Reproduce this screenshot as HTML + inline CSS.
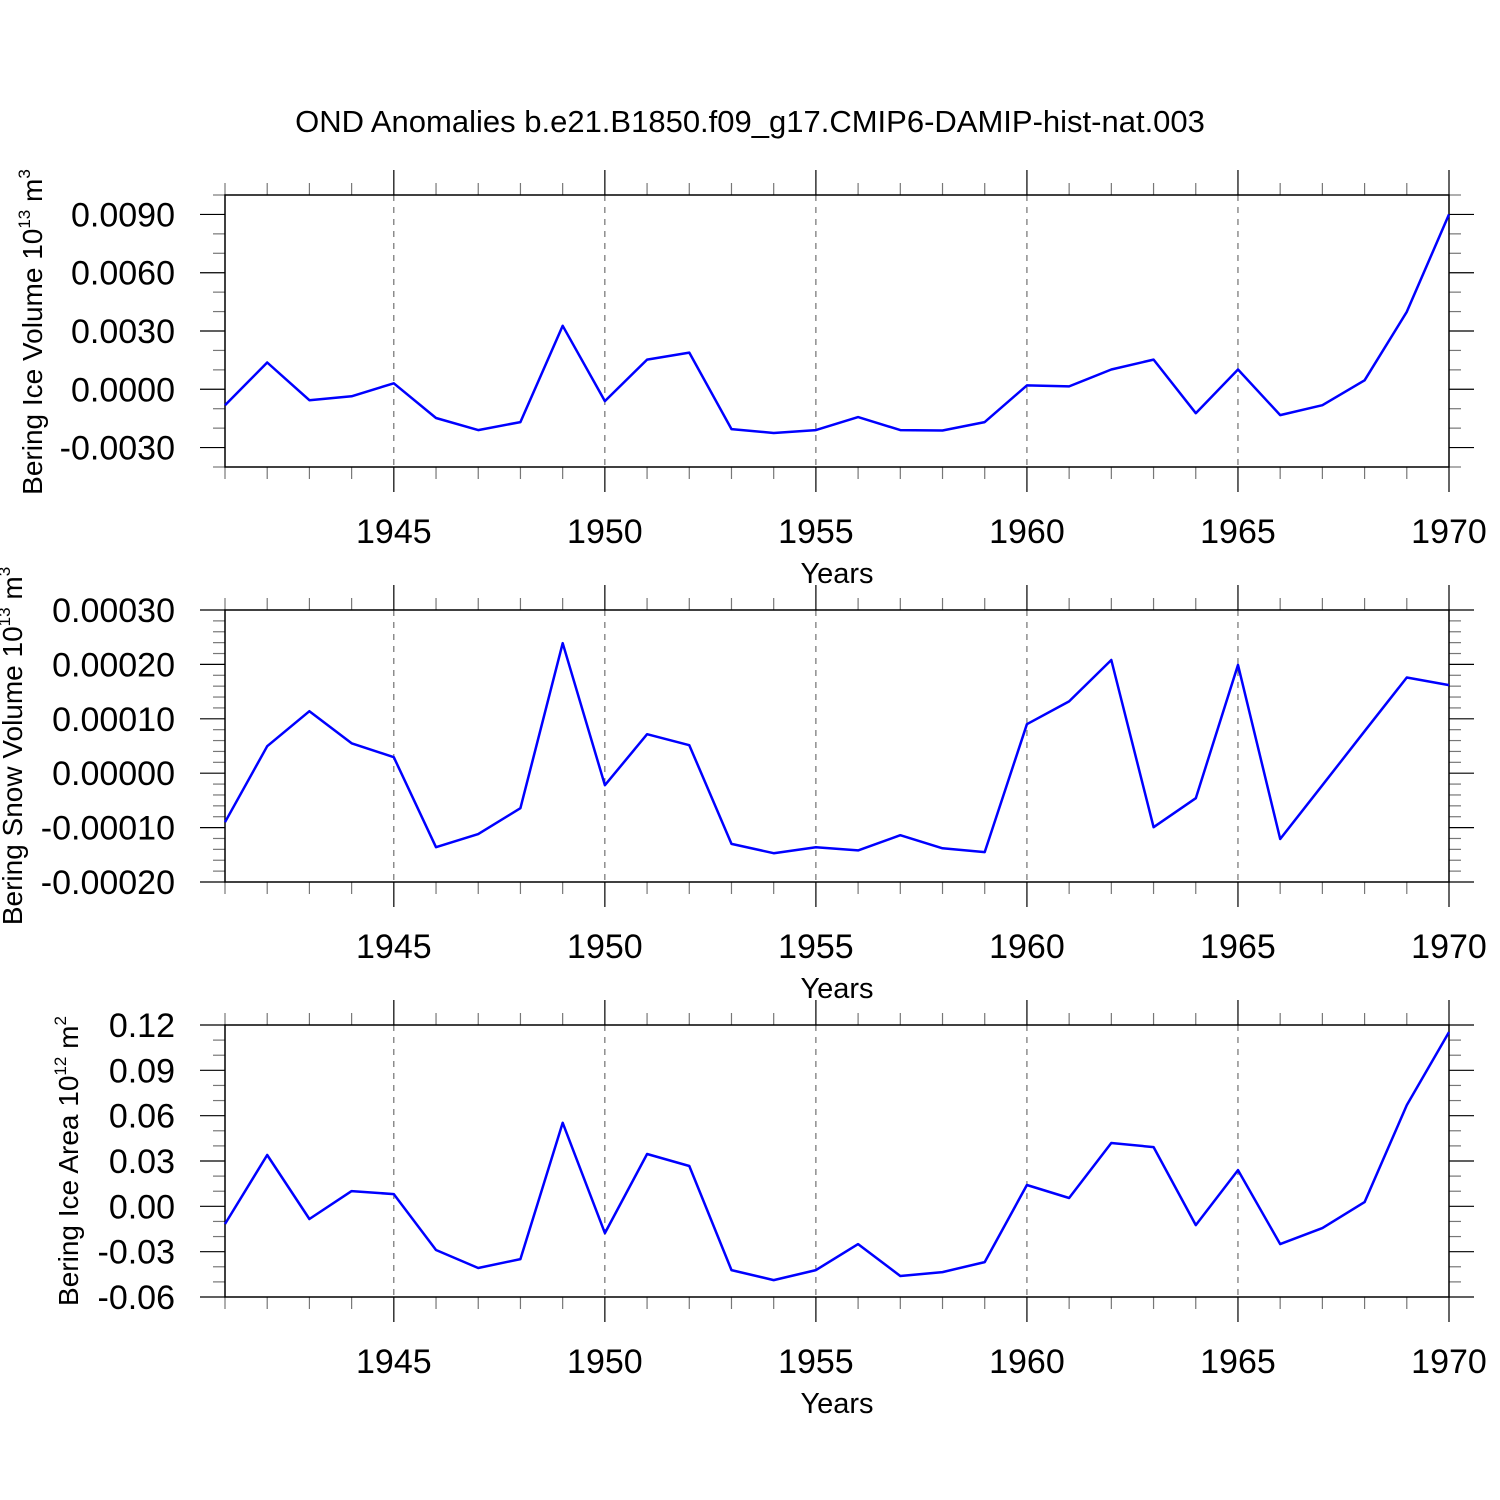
<!DOCTYPE html>
<html><head><meta charset="utf-8"><style>
html,body{margin:0;padding:0;background:#fff;}
svg{display:block;font-family:"Liberation Sans",sans-serif;}
</style></head><body>
<svg id="chart" width="1500" height="1500" viewBox="0 0 1500 1500" xmlns="http://www.w3.org/2000/svg">
<rect width="1500" height="1500" fill="#fff"/>
<text x="750" y="132" font-size="31" text-anchor="middle">OND Anomalies b.e21.B1850.f09_g17.CMIP6-DAMIP-hist-nat.003</text>
</svg>
<script>
const years = [1941,1942,1943,1944,1945,1946,1947,1948,1949,1950,1951,1952,1953,1954,1955,1956,1957,1958,1959,1960,1961,1962,1963,1964,1965,1966,1967,1968,1969,1970];
const iceVolume = [-0.00082,0.00138,-0.00056,-0.00036,0.00031,-0.00148,-0.0021,-0.00169,0.00327,-0.00061,0.00153,0.00189,-0.00205,-0.00225,-0.0021,-0.00143,-0.0021,-0.00212,-0.00169,0.0002,0.00015,0.00102,0.00153,-0.00123,0.00102,-0.00133,-0.00082,0.00046,0.00399,0.009];
const snowVolume = [-0.00009,0.0000496,0.000114,0.000055,0.0000294,-0.000136,-0.000112,-0.0000643,0.000239,-0.000022,0.0000717,0.0000515,-0.00013,-0.000147,-0.000136,-0.000142,-0.000114,-0.000138,-0.000145,0.00009,0.000132,0.000208,-0.0000993,-0.000046,0.000199,-0.000121,-0.000022,0.0000772,0.000176,0.000162];
const iceArea = [-0.0117,0.034,-0.0084,0.0101,0.0081,-0.0289,-0.0408,-0.0349,0.0553,-0.0177,0.0346,0.0267,-0.0422,-0.0488,-0.0422,-0.025,-0.0461,-0.0435,-0.0369,0.0141,0.0055,0.0419,0.0392,-0.0124,0.024,-0.025,-0.0144,0.0028,0.067,0.1153];
const xTicks = [1945,1950,1955,1960,1965,1970];
const ticks1 = [-0.003,0,0.003,0.006,0.009];
const labels1 = ["-0.0030","0.0000","0.0030","0.0060","0.0090"];
const ticks2 = [-0.0002,-0.0001,0,0.0001,0.0002,0.0003];
const labels2 = ["-0.00020","-0.00010","0.00000","0.00010","0.00020","0.00030"];
const ticks3 = [-0.06,-0.03,0,0.03,0.06,0.09,0.12];
const labels3 = ["-0.06","-0.03","0.00","0.03","0.06","0.09","0.12"];

const NS="http://www.w3.org/2000/svg";
const svg=document.getElementById('chart');
function mk(tag,attrs,parent){const e=document.createElementNS(NS,tag);for(const k in attrs)e.setAttribute(k,attrs[k]);(parent||svg).appendChild(e);return e;}
const X0=225,X1=1449;
function xs(yr){return X0+(yr-1941)/(1970-1941)*(X1-X0);}

const panels=[
 {name:'ice-volume',top:195,bot:467,ymin:-0.004,ymax:0.01,data:iceVolume,ticks:ticks1,labels:labels1,minor:0.001,title:'Bering Ice Volume 10',sup:'13',unit:' m',usup:'3',tx:42,ty:332},
 {name:'snow-volume',top:610,bot:882,ymin:-0.0002,ymax:0.0003,data:snowVolume,ticks:ticks2,labels:labels2,minor:0.00002,title:'Bering Snow Volume 10',sup:'13',unit:' m',usup:'3',tx:22,ty:746},
 {name:'ice-area',top:1025,bot:1297,ymin:-0.06,ymax:0.12,data:iceArea,ticks:ticks3,labels:labels3,minor:0.01,title:'Bering Ice Area 10',sup:'12',unit:' m',usup:'2',tx:78,ty:1161}
];
panels.forEach(p=>{
 const g=mk('g',{});
 
 
 const ys=v=>p.bot-(v-p.ymin)/(p.ymax-p.ymin)*(p.bot-p.top);
 xTicks.slice(0,5).forEach(t=>{
  const l=mk('line',{x1:xs(t),x2:xs(t),y1:p.top,y2:p.bot,stroke:'#555','stroke-width':1,'stroke-dasharray':'6,6'},g);
  
  
 });
 years.forEach(yr=>{
  const maj=xTicks.includes(yr);const len=maj?25:12;const x=xs(yr);
  mk('line',{x1:x,x2:x,y1:p.top,y2:p.top-len,stroke:maj?'#000':'#777','stroke-width':1.2},g);
  mk('line',{x1:x,x2:x,y1:p.bot,y2:p.bot+len,stroke:maj?'#000':'#777','stroke-width':1.2},g);
 });
 xTicks.forEach(t=>{
  const tx=mk('text',{x:xs(t),y:p.bot+76,'font-size':34,'text-anchor':'middle'},g);
  tx.textContent=t;
  
  
 });
 const xt=mk('text',{x:837,y:p.bot+116,'font-size':29,'text-anchor':'middle'},g);
 xt.textContent='Years';
 
 
 const n=Math.round((p.ymax-p.ymin)/p.minor);
 for(let i=0;i<=n;i++){
  const v=p.ymin+i*p.minor;const y=ys(v);
  const maj=p.ticks.some(t=>Math.abs(t-v)<p.minor/10);const len=maj?25:12;
  mk('line',{x1:X0,x2:X0-len,y1:y,y2:y,stroke:maj?'#000':'#777','stroke-width':1.2},g);
  mk('line',{x1:X1,x2:X1+len,y1:y,y2:y,stroke:maj?'#000':'#777','stroke-width':1.2},g);
 }
 p.ticks.forEach((t,i)=>{
  const tx=mk('text',{x:175,y:ys(t)+12,'font-size':34,'text-anchor':'end'},g);
  tx.textContent=p.labels[i];
  
  
 });
 const yt=mk('text',{x:0,y:0,'font-size':28,'text-anchor':'middle',transform:`translate(${p.tx},${p.ty}) rotate(-90)`},g);
 
 
 const a=mk('tspan',{},yt);a.textContent=p.title;
 const b=mk('tspan',{dy:-12,'font-size':17},yt);b.textContent=p.sup;
 const c=mk('tspan',{dy:12},yt);c.textContent=p.unit;
 const d=mk('tspan',{dy:-12,'font-size':17},yt);d.textContent=p.usup;
 const box=mk('rect',{x:X0,y:p.top,width:X1-X0,height:p.bot-p.top,fill:'none',stroke:'#000','stroke-width':1.5},g);
 
 
 const pts=years.map((yr,i)=>xs(yr).toFixed(1)+','+ys(p.data[i]).toFixed(1)).join(' ');
 const pl=mk('polyline',{points:pts,fill:'none',stroke:'#0000ff','stroke-width':2.5,'stroke-linejoin':'round'},g);
 
 
});
</script>
</body></html>
